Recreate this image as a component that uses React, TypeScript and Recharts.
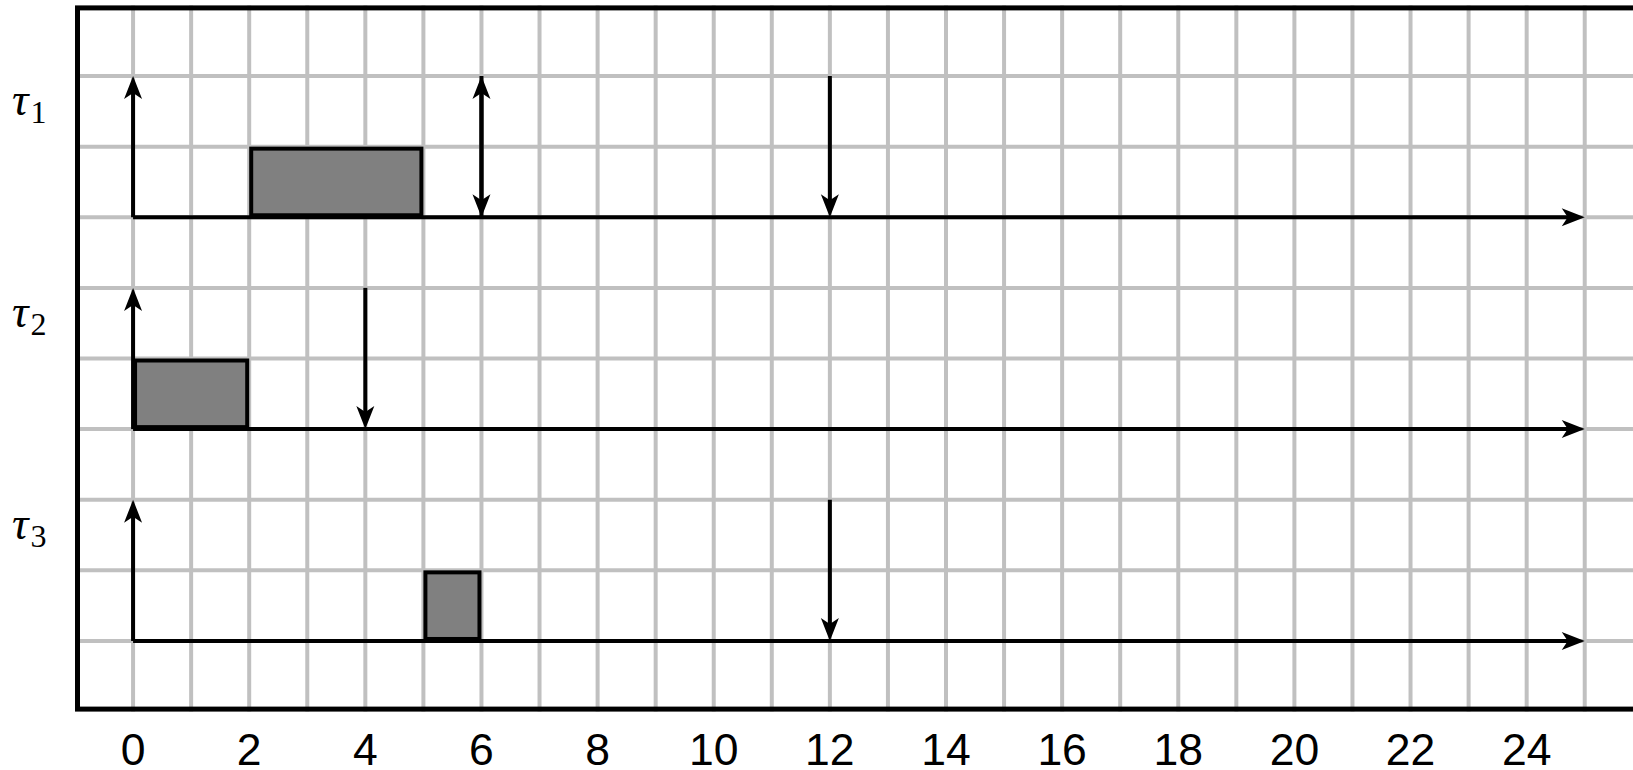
import React from 'react';
import { ComposedChart, XAxis, YAxis, CartesianGrid, ReferenceLine, ReferenceArea } from 'recharts';

// ---- data ----
const TASK_SUBSCRIPTS = ['1', '2', '3'];
const ROW_BASE = [7, 4, 1];
const RELEASES = [[0, 6], [0], [0]];
const DEADLINES = [[6, 12], [4], [12]];
const EXEC_START = [2, 0, 5];
const EXEC_END = [5, 2, 6];
const ARROW_SPAN = 2;
const EXEC_SPAN = 1;
const HORIZON = 25;
const X_DOMAIN = [-1, 26];
const Y_DOMAIN = [0, 10];
const X_LABELS = [0, 2, 4, 6, 8, 10, 12, 14, 16, 18, 20, 22, 24];
const GRID_X = [0, 1, 2, 3, 4, 5, 6, 7, 8, 9, 10, 11, 12, 13, 14, 15, 16, 17, 18, 19, 20, 21, 22, 23, 24, 25];
const GRID_Y = [1, 2, 3, 4, 5, 6, 7, 8, 9];
const LABEL_TICKS = ROW_BASE.map((b) => b + 1.5);

const data = GRID_X.map((x) => ({ x }));

const W = 1633;
const H = 770;

function Arrow(props: any) {
  const { x1, y1, x2, y2 } = props;
  const dx = x2 - x1;
  const dy = y2 - y1;
  const len = Math.hypot(dx, dy) || 1;
  const ux = dx / len;
  const uy = dy / len;
  const L = 23;
  const Wd = 9;
  const N = 6;
  const px = -uy;
  const py = ux;
  const bx = x2 - ux * L;
  const by = y2 - uy * L;
  const nx = x2 - ux * (L - N);
  const ny = y2 - uy * (L - N);
  const d = `M${x2},${y2} L${bx + px * Wd},${by + py * Wd} L${nx},${ny} L${bx - px * Wd},${by - py * Wd} Z`;
  return (
    <g>
      <line x1={x1} y1={y1} x2={nx + ux * 1} y2={ny + uy * 1} stroke="#000" strokeWidth={4} />
      <path d={d} fill="#000" stroke="none" />
    </g>
  );
}

function ExecBox(props: any) {
  const { x, y, width, height } = props;
  return (
    <rect x={x + 2} y={y + 2} width={width - 4} height={height - 4} fill="#808080" stroke="#000" strokeWidth={4} />
  );
}

function Frame(props: any) {
  const { x, y, width, height } = props;
  return <rect x={x + 2.5} y={y + 2.5} width={width - 5} height={height - 5} fill="none" stroke="#000" strokeWidth={5} />;
}

function XTick(props: any) {
  const { x, y, payload } = props;
  return (
    <text x={x} y={y + 53} textAnchor="middle" fontFamily="Liberation Sans, Arial, Helvetica, sans-serif" fontSize={44.5} fill="#000">
      {payload.value}
    </text>
  );
}

function YLabelTick(props: any) {
  const { y, payload } = props;
  const idx = LABEL_TICKS.indexOf(payload.value);
  if (idx < 0) return <g />;
  return (
    <text x={12} y={y + 4} fill="#000" fontFamily="Liberation Serif, DejaVu Serif, serif">
      <tspan fontStyle="italic" fontSize={46}>τ</tspan>
      <tspan fontSize={32} dy={8} dx={2}>{TASK_SUBSCRIPTS[idx]}</tspan>
    </text>
  );
}

export default function App() {
  return (
    <div style={{ width: W, height: H, overflow: 'hidden', background: '#fff' }}>
      <style>{`html,body{margin:0;padding:0;overflow:hidden;background:#fff}`}</style>
      <ComposedChart width={W} height={H} data={data} margin={{ top: 5.4, right: -9.8, bottom: 0, left: 0 }}>
        <CartesianGrid stroke="#c0c0c0" strokeWidth={4} horizontalValues={GRID_Y} verticalValues={GRID_X} />
        <XAxis
          dataKey="x"
          type="number"
          domain={X_DOMAIN}
          ticks={X_LABELS}
          allowDataOverflow
          axisLine={false}
          tickLine={false}
          tickSize={0}
          tickMargin={0}
          height={58.4}
          interval={0}
          tick={<XTick />}
        />
        <YAxis
          type="number"
          domain={Y_DOMAIN}
          ticks={LABEL_TICKS}
          allowDataOverflow
          width={75}
          axisLine={false}
          tickLine={false}
          tickSize={0}
          tickMargin={0}
          interval={0}
          tick={<YLabelTick />}
        />
        {ROW_BASE.map((b, i) => (
          <ReferenceArea
            key={`ex${i}`}
            x1={EXEC_START[i]}
            x2={EXEC_END[i]}
            y1={b}
            y2={b + EXEC_SPAN}
            shape={(p: any) => <ExecBox {...p} />}
          />
        ))}
        {ROW_BASE.map((b, i) => (
          <ReferenceLine
            key={`tl${i}`}
            segment={[{ x: 0, y: b }, { x: HORIZON, y: b }]}
            shape={(p: any) => <Arrow {...p} />}
          />
        ))}
        {ROW_BASE.map((b, i) =>
          RELEASES[i].map((r, j) => (
            <ReferenceLine
              key={`r${i}-${j}`}
              segment={[{ x: r, y: b }, { x: r, y: b + ARROW_SPAN }]}
              shape={(p: any) => <Arrow {...p} />}
            />
          ))
        )}
        {ROW_BASE.map((b, i) =>
          DEADLINES[i].map((d, j) => (
            <ReferenceLine
              key={`d${i}-${j}`}
              segment={[{ x: d, y: b + ARROW_SPAN }, { x: d, y: b }]}
              shape={(p: any) => <Arrow {...p} />}
            />
          ))
        )}
        <ReferenceArea x1={X_DOMAIN[0]} x2={X_DOMAIN[1]} y1={Y_DOMAIN[0]} y2={Y_DOMAIN[1]} shape={(p: any) => <Frame {...p} />} />
      </ComposedChart>
    </div>
  );
}
